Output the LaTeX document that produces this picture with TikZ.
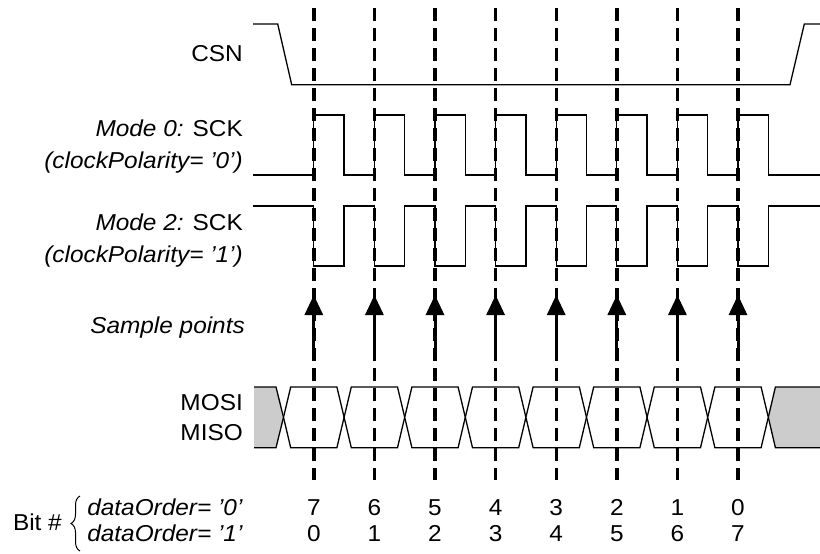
\documentclass[tikz,border=0pt]{standalone}
\usepackage{fontspec}
\setmainfont[FakeStretch=1.06]{Liberation Sans}
\usepackage{tikz}
\usetikzlibrary{arrows.meta,decorations.pathreplacing,calc}
\definecolor{busgray}{RGB}{204, 204, 204}
\tikzset{
    signal/.style={line width=1.3pt, line join=miter},
    sample line/.style={line width=3.4pt, dash pattern=on 13pt off 7pt},
    sample arrow/.style={-{Triangle[length=20pt,width=18pt]}, line width=3pt},
    sig label/.style={anchor=base east, inner sep=0pt, font=\fontsize{23}{26}\selectfont},
    bit label/.style={anchor=base, inner sep=0pt, font=\fontsize{23}{26}\selectfont},
    bus cell/.style={signal, fill=white},
    bus idle/.style={fill=busgray}
}

\begin{document}
\begin{tikzpicture}[x=1pt, y=-1pt]
\useasboundingbox (0,0) rectangle (820,554);

\node[sig label] (csn) at (243,61.7) {CSN};
\node[sig label] (mode0) at (243,136.7) {\textit{Mode 0:} SCK};
\node[sig label] (pol0) at (243,168) {\textit{(clockPolarity= '0')}};
\node[sig label] (mode2) at (243,230) {\textit{Mode 2:} SCK};
\node[sig label] (pol1) at (243,262) {\textit{(clockPolarity= '1')}};
\node[sig label] (sample) at (245,333) {\textit{Sample points}};
\node[sig label] (mosi) at (243,410.7) {MOSI};
\node[sig label] (miso) at (243,440) {MISO};
\node[sig label] (order0) at (243,515) {\textit{dataOrder= '0'}};
\node[sig label] (order1) at (243,541.5) {\textit{dataOrder= '1'}};
\node[sig label] (bit) at (62,530.7) {Bit \#};
\coordinate (brace low) at (80,551);
\coordinate (brace high) at (80,496);
\draw[signal, line width=1pt, decorate, decoration={brace, amplitude=9pt}] (brace low) -- (brace high);

% CSN
\draw[signal] (253,24) -- (277.7,24) -- (291.7,84.7) -- (790,84.7) -- (804.3,24) -- (820,24);

% SCK, mode 0 and mode 2
\draw[signal] (253,175) foreach \i in {0,...,7} {
    -- ({313.8+60.6*\i},175) -- ({313.8+60.6*\i},115) -- ({344.1+60.6*\i},115) -- ({344.1+60.6*\i},175)
} -- (820,175);
\draw[signal] (253,206) foreach \i in {0,...,7} {
    -- ({313.8+60.6*\i},206) -- ({313.8+60.6*\i},266) -- ({344.1+60.6*\i},266) -- ({344.1+60.6*\i},206)
} -- (820,206);

% MOSI / MISO
\fill[bus idle] (254,387) -- (276,387) -- (283.5,417.3) -- (276,447.7) -- (254,447.7) -- cycle;
\draw[signal] (254,387) -- (276,387) -- (283.5,417.3) -- (276,447.7) -- (254,447.7);
\fill[bus idle] (820,387) -- (775.4,387) -- (768.3,417.3) -- (775.4,447.7) -- (820,447.7) -- cycle;
\draw[signal] (820,387) -- (775.4,387) -- (768.3,417.3) -- (775.4,447.7) -- (820,447.7);
\foreach \k in {0,...,7} {
    \pgfmathsetmacro{\c}{283.5+60.6*\k}
    \draw[bus cell] (\c,417.3) -- (\c+7.2,387) -- (\c+53.4,387) -- (\c+60.6,417.3)
        -- (\c+53.4,447.7) -- (\c+7.2,447.7) -- cycle;
}

% sample points
\foreach \i [evaluate=\i as \msb using int(7-\i)] in {0,...,7} {
    \pgfmathsetmacro{\xs}{313.8+60.6*\i}
    \draw[sample line] (\xs,8) -- (\xs,480);
    \coordinate (foot\i) at (\xs,360);
    \coordinate (tip\i) at (\xs,295);
    \draw[sample arrow] (foot\i) -- (tip\i);
    \node[bit label] (msb\i) at (\xs,515) {\msb};
    \node[bit label] (lsb\i) at (\xs,541.5) {\i};
}
\end{tikzpicture}
\end{document}
